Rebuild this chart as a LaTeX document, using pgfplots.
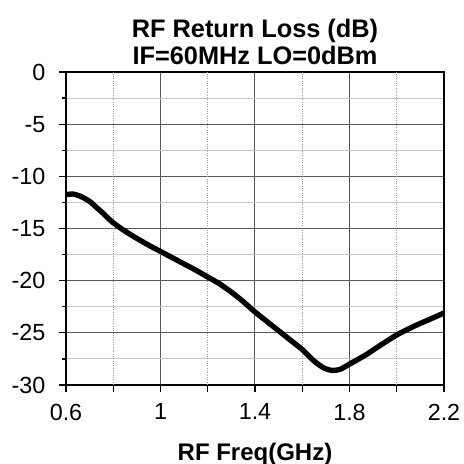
\documentclass[border=0pt]{standalone}
\usepackage{fontspec}
\setmainfont{Liberation Sans}
\usepackage{pgfplots}
\pgfplotsset{compat=1.18}
\begin{document}
\begin{tikzpicture}
\begin{axis}[
  name=ax,
  scale only axis,
  width=283.5pt, height=234.75pt,
  xmin=0.6, xmax=2.2, ymin=-30, ymax=0,
  xtick={0.6,1,1.4,1.8,2.2},
  xticklabels={0.6,1,1.4,1.8,2.2},
  ytick={-30,-25,-20,-15,-10,-5,0},
  minor y tick num=1,
  extra x ticks={0.8,1.2,1.6,2.0},
  extra x tick labels={},
  extra x tick style={major grid style={densely dotted, color=black!40, line width=0.75pt}},
  xmajorgrids, ymajorgrids, yminorgrids,
  major grid style={color=black!65, line width=0.75pt},
  minor grid style={color=black!22, line width=0.75pt},
  tick align=outside,
  xtick pos=left, ytick pos=left,
  major tick length=5.25pt,
  minor tick length=3pt,
  tick style={black, line width=0.9pt},
  axis line style={black, line width=1.1pt},
  /pgf/number format/assume math mode=true,
  ticklabel style={font=\fontsize{17.5}{21}\selectfont},
  yticklabel style={xshift=-6.75pt},
  xticklabel style={yshift=-5.25pt},
  title style={font=\bfseries\fontsize{19}{20.25}\selectfont, align=center, yshift=-3.75pt},
  title={RF Return Loss (dB)\\IF=60MHz LO=0dBm},
  xlabel={RF Freq(GHz)},
  xlabel style={font=\bfseries\fontsize{18}{21}\selectfont},
]
\addplot[black, line width=4pt, line join=round, line cap=round, smooth, tension=0.4] coordinates {
(0.60,-11.75) (0.63,-11.7) (0.66,-11.9) (0.70,-12.4) (0.73,-13.0)
(0.76,-13.6) (0.78,-14.05) (0.80,-14.45) (0.83,-14.95) (0.86,-15.4)
(0.90,-15.95) (0.95,-16.6) (1.00,-17.2) (1.05,-17.8) (1.10,-18.4)
(1.15,-19.0) (1.20,-19.65) (1.25,-20.3) (1.30,-21.1) (1.35,-22.0)
(1.40,-23.0) (1.45,-23.9) (1.50,-24.8) (1.55,-25.7) (1.60,-26.6)
(1.65,-27.7) (1.69,-28.35) (1.725,-28.6) (1.76,-28.5) (1.80,-28.0)
(1.87,-27.1) (1.93,-26.2) (2.00,-25.2) (2.07,-24.4) (2.14,-23.7)
(2.20,-23.1)
};
\end{axis}
\pgfresetboundingbox
\path ([shift={(-49.5pt,-59.25pt)}]ax.south west) rectangle ([shift={(15pt,54pt)}]ax.north east);
\end{tikzpicture}
\end{document}
